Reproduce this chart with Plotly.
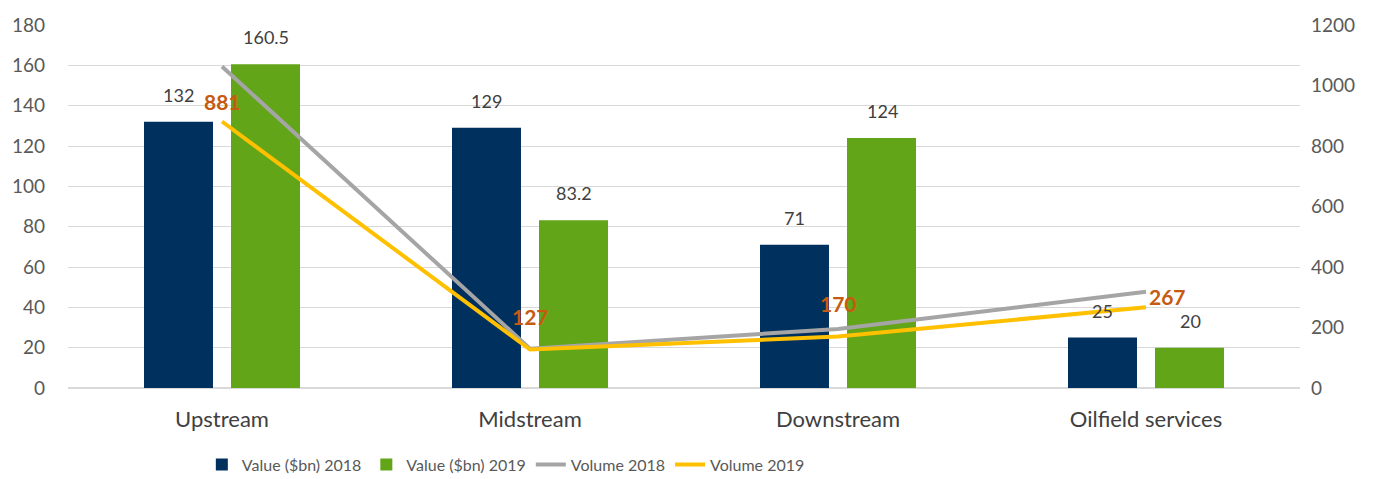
import plotly.graph_objects as go

categories = ["Upstream", "Midstream", "Downstream", "Oilfield services"]
value_2018 = [132, 129, 71, 25]
value_2019 = [160.5, 83.2, 124, 20]
volume_2018 = [1063, 130, 195, 318]
volume_2019 = [881, 127, 170, 267]
value_labels_2018 = ["132", "129", "71", "25"]
value_labels_2019 = ["160.5", "83.2", "124", "20"]
volume_labels_2019 = ["881", "127", "170", "267"]

NAVY = "#00305E"
GREEN = "#62A519"
GRAY = "#A5A5A5"
YELLOW = "#FFC000"
ORANGE = "#C55A11"
TEXT = "#404040"
FONT = "Lato, Open Sans, sans-serif"

fig = go.Figure()
fig.add_trace(go.Bar(name="Value ($bn) 2018", x=categories, y=value_2018,
                     marker=dict(color=NAVY, line=dict(width=0)), yaxis="y"))
fig.add_trace(go.Bar(name="Value ($bn) 2019", x=categories, y=value_2019,
                     marker=dict(color=GREEN, line=dict(width=0)), yaxis="y"))
fig.add_trace(go.Scatter(name="Volume 2018", x=categories, y=volume_2018, mode="lines",
                         line=dict(color=GRAY, width=4), yaxis="y2"))
fig.add_trace(go.Scatter(name="Volume 2019", x=categories, y=volume_2019, mode="lines",
                         line=dict(color=YELLOW, width=4), yaxis="y2"))

annotations = []
for c, v, t in zip(categories, value_2018, value_labels_2018):
    annotations.append(dict(x=c, y=v, xref="x", yref="y", text=t, showarrow=False,
                            xshift=-44, yshift=27, font=dict(size=18, color=TEXT, family=FONT)))
for c, v, t in zip(categories, value_2019, value_labels_2019):
    annotations.append(dict(x=c, y=v, xref="x", yref="y", text=t, showarrow=False,
                            xshift=44, yshift=27, font=dict(size=18, color=TEXT, family=FONT)))
vol_label_offsets = [(0, 20), (0, 33), (0, 33), (21, 11)]
for (c, v, t), (dx, dy) in zip(zip(categories, volume_2019, volume_labels_2019), vol_label_offsets):
    annotations.append(dict(x=c, y=v, xref="x", yref="y2", text="<b>%s</b>" % t, showarrow=False,
                            xshift=dx, yshift=dy, font=dict(size=21, color=ORANGE, family=FONT)))

fig.update_layout(
    width=1373, height=479,
    margin=dict(l=68, r=73, t=25, b=91),
    paper_bgcolor="white", plot_bgcolor="white",
    barmode="group", bargap=0.435, bargroupgap=0.207,
    font=dict(family=FONT, size=19, color="#595959"),
    xaxis=dict(showgrid=False, showline=False, ticks="", automargin=False,
               ticklabelstandoff=16, tickfont=dict(size=22, color="#404040")),
    yaxis=dict(range=[0, 180], dtick=20, showgrid=True, gridcolor="#D9D9D9", gridwidth=1,
               zeroline=True, zerolinecolor="#D9D9D9", showline=False, ticks="", automargin=False,
               ticklabelstandoff=22, tickfont=dict(size=19, color="#595959")),
    yaxis2=dict(range=[0, 1200], dtick=200, overlaying="y", side="right", showgrid=False,
                zeroline=False, showline=False, ticks="", automargin=False,
                ticklabelstandoff=10, tickfont=dict(size=19, color="#595959")),
    legend=dict(orientation="h", xref="container", yref="container", x=0.147, xanchor="left",
                y=0.03, yanchor="middle", font=dict(size=16, color="#595959", family=FONT),
                traceorder="normal", itemwidth=30),
    annotations=annotations,
)

fig.write_html("out.html", post_script="document.body.style.margin='0';",
               config={"displayModeBar": False})
